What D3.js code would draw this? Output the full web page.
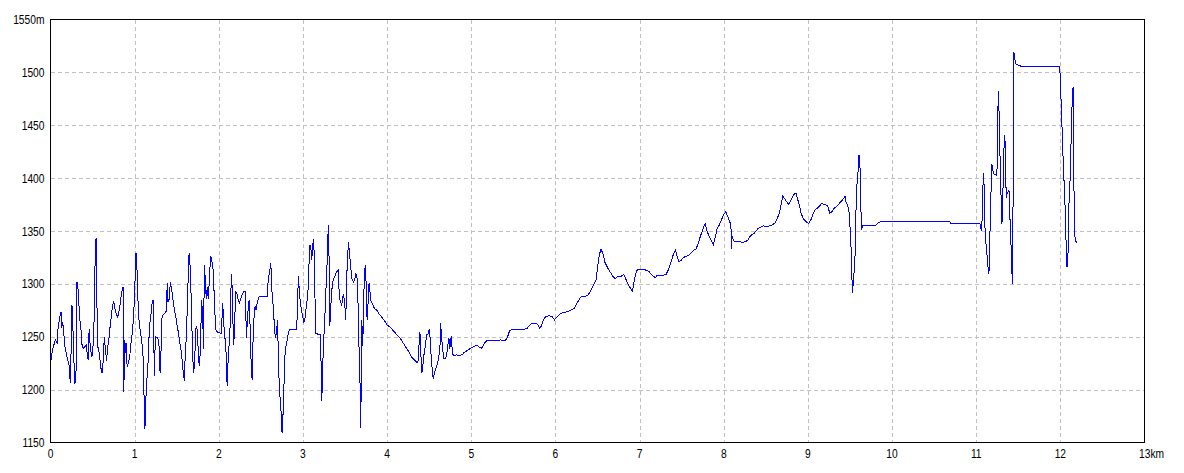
<!DOCTYPE html>
<html><head><meta charset="utf-8">
<script src="https://cdn.jsdelivr.net/npm/d3@7"></script>
<style>
html,body{margin:0;padding:0;background:#fff;}
svg{display:block;}
text{font-family:"Liberation Sans",Arial,sans-serif;font-size:12.5px;fill:#000;}
</style></head>
<body>
<svg id="chart" width="1184" height="473"></svg>
<script>
// ---- tick labels ----
const xTicks = [0,1,2,3,4,5,6,7,8,9,10,11,12,13];
const xTickLabels = ["0","1","2","3","4","5","6","7","8","9","10","11","12","13km"];
const yTicks = [1150,1200,1250,1300,1350,1400,1450,1500,1550];
const yTickLabels = ["1150","1200","1250","1300","1350","1400","1450","1500","1550m"];

// ---- elevation profile: [distance km, elevation m] ----
const trackA = [[0,1225],[0.020,1236],[0.039,1242],[0.059,1247],[0.078,1244],[0.090,1258],[0.110,1269],[0.125,1273],[0.133,1258],[0.145,1264],[0.157,1255],[0.169,1242],[0.184,1236],[0.204,1228],[0.224,1222],[0.235,1206],[0.247,1244],[0.255,1280],[0.263,1266],[0.275,1238],[0.286,1206],[0.302,1208],[0.314,1302],[0.329,1294],[0.345,1269],[0.361,1258],[0.376,1241],[0.392,1239],[0.412,1241],[0.424,1242],[0.435,1235],[0.447,1228],[0.459,1257],[0.471,1242],[0.490,1231],[0.502,1235],[0.518,1266],[0.529,1318],[0.541,1343],[0.549,1294],[0.561,1241],[0.576,1236],[0.588,1228],[0.600,1220],[0.612,1216],[0.627,1228],[0.639,1250],[0.655,1236],[0.667,1227],[0.678,1241],[0.690,1244],[0.706,1258],[0.722,1269],[0.737,1280],[0.753,1283],[0.765,1277],[0.780,1272],[0.796,1269],[0.808,1271],[0.824,1279],[0.839,1288],[0.851,1294],[0.863,1297],[0.871,1198],[0.882,1247],[0.894,1235],[0.902,1244],[0.910,1222],[0.925,1225],[0.941,1231],[0.957,1244],[0.973,1255],[0.988,1269],[1.004,1302],[1.016,1329],[1.027,1316],[1.039,1285],[1.051,1266],[1.067,1255],[1.082,1247],[1.098,1236],[1.110,1198],[1.122,1163],[1.133,1191],[1.145,1209],[1.161,1228],[1.176,1261],[1.192,1269],[1.204,1280],[1.220,1285],[1.227,1249],[1.235,1213],[1.243,1241],[1.251,1250],[1.267,1249],[1.282,1247],[1.294,1238],[1.302,1216],[1.314,1238],[1.325,1268],[1.341,1271],[1.357,1272],[1.373,1274],[1.380,1286],[1.388,1301],[1.396,1283],[1.412,1286],[1.424,1302],[1.435,1297],[1.447,1291],[1.459,1283],[1.475,1274],[1.490,1268],[1.506,1260],[1.522,1253],[1.537,1244],[1.553,1236],[1.565,1227],[1.580,1214],[1.592,1208],[1.600,1231],[1.616,1253],[1.631,1294],[1.647,1329],[1.663,1313],[1.678,1266],[1.690,1230],[1.702,1216],[1.714,1228],[1.725,1257],[1.737,1260],[1.749,1252],[1.757,1230],[1.769,1222],[1.780,1236],[1.796,1285],[1.808,1269],[1.820,1238],[1.827,1318],[1.839,1305],[1.851,1286],[1.863,1297],[1.875,1286],[1.886,1301],[1.898,1320],[1.906,1326]];
const trackB = [[1.921,1320],[1.933,1313],[1.945,1290],[1.956,1268],[1.968,1255],[2.000,1254],[2.032,1253],[2.044,1282],[2.055,1272],[2.067,1250],[2.079,1247],[2.091,1227],[2.099,1203],[2.111,1228],[2.119,1239],[2.131,1250],[2.143,1293],[2.154,1309],[2.166,1268],[2.178,1242],[2.190,1268],[2.202,1293],[2.214,1291],[2.230,1285],[2.246,1282],[2.261,1286],[2.277,1290],[2.297,1293],[2.313,1293],[2.321,1271],[2.329,1249],[2.341,1268],[2.352,1279],[2.360,1285],[2.372,1260],[2.384,1225],[2.396,1209],[2.408,1250],[2.420,1271],[2.432,1279],[2.444,1275],[2.455,1282],[2.467,1285],[2.479,1288],[2.574,1288],[2.586,1302],[2.598,1309],[2.610,1315],[2.618,1320],[2.630,1294],[2.642,1283],[2.653,1272],[2.661,1257],[2.673,1249],[2.685,1253],[2.697,1266],[2.705,1241],[2.717,1206],[2.729,1191],[2.741,1178],[2.752,1159],[2.764,1178],[2.776,1209],[2.788,1235],[2.800,1242],[2.812,1247],[2.824,1252],[2.840,1257],[2.927,1257],[2.935,1285],[2.947,1307],[2.958,1291],[2.970,1282],[2.982,1275],[2.998,1269],[3.010,1263],[3.022,1266],[3.034,1275],[3.046,1283],[3.057,1288],[3.069,1313],[3.081,1337],[3.093,1335],[3.105,1323],[3.113,1334],[3.125,1342],[3.137,1323],[3.149,1253],[3.208,1252],[3.216,1222],[3.224,1189],[3.236,1225],[3.248,1249],[3.259,1266],[3.275,1298],[3.287,1320],[3.295,1343],[3.303,1356],[3.311,1320],[3.319,1260],[3.331,1279],[3.343,1294],[3.354,1302],[3.366,1305],[3.378,1307],[3.390,1310],[3.406,1312],[3.418,1313],[3.426,1298],[3.438,1285],[3.450,1282],[3.461,1280],[3.473,1288],[3.485,1290],[3.493,1280],[3.501,1277],[3.509,1266],[3.517,1299],[3.529,1324],[3.541,1340],[3.549,1332],[3.560,1323],[3.572,1312],[3.584,1304],[3.600,1302],[3.616,1304],[3.628,1310],[3.640,1307],[3.651,1299],[3.659,1258],[3.671,1228],[3.679,1203],[3.687,1164],[3.699,1266],[3.711,1241],[3.723,1291],[3.731,1304],[3.739,1318],[3.750,1302],[3.762,1266],[3.774,1282],[3.786,1301],[3.798,1291],[3.810,1283],[3.826,1281],[3.842,1278],[3.861,1276],[3.881,1275],[3.901,1272],[3.921,1270],[3.941,1268],[3.960,1266],[3.980,1264],[4.000,1261],[4.020,1260],[4.040,1259]];
const trackC = [[4.081,1255],[4.160,1248],[4.240,1238],[4.299,1230],[4.339,1227],[4.366,1225],[4.370,1232],[4.382,1246],[4.390,1254],[4.402,1232],[4.414,1216],[4.426,1224],[4.438,1233],[4.453,1241],[4.469,1252],[4.485,1252],[4.501,1257],[4.509,1251],[4.517,1241],[4.525,1229],[4.537,1218],[4.549,1210],[4.560,1215],[4.576,1219],[4.596,1224],[4.612,1229],[4.628,1241],[4.636,1263],[4.648,1248],[4.659,1241],[4.671,1229],[4.695,1229],[4.715,1237],[4.727,1246],[4.735,1249],[4.743,1238],[4.754,1243],[4.762,1251],[4.774,1237],[4.786,1232],[4.802,1232],[4.826,1233],[4.853,1232],[4.893,1233],[4.913,1235],[4.952,1237],[4.992,1239],[5.032,1241],[5.071,1242],[5.099,1240],[5.119,1239],[5.139,1241],[5.158,1244],[5.182,1246],[5.210,1246],[5.309,1246],[5.349,1247],[5.380,1246],[5.408,1247],[5.428,1249],[5.448,1254],[5.459,1256],[5.487,1257],[5.586,1257],[5.626,1257],[5.665,1258],[5.705,1262],[5.745,1263],[5.784,1262],[5.816,1258],[5.832,1260],[5.851,1265],[5.883,1269],[5.923,1270],[5.962,1269],[5.990,1266],[6.022,1269],[6.061,1272],[6.150,1274]];
const trackD = [[6.226,1277],[6.265,1283],[6.305,1288],[6.345,1288],[6.384,1289],[6.416,1293],[6.455,1299],[6.483,1304],[6.503,1317],[6.523,1328],[6.543,1333],[6.566,1328],[6.590,1320],[6.622,1315],[6.653,1311],[6.685,1307],[6.709,1305],[6.741,1307],[6.780,1307],[6.812,1309],[6.840,1304],[6.867,1299],[6.891,1296],[6.915,1293],[6.939,1304],[6.962,1312],[6.986,1314],[7.018,1314],[7.077,1313],[7.109,1312],[7.137,1309],[7.164,1307],[7.188,1306],[7.208,1308],[7.236,1308],[7.275,1308],[7.315,1309],[7.335,1312],[7.358,1317],[7.382,1323],[7.406,1329],[7.426,1332],[7.446,1326],[7.469,1321],[7.493,1322],[7.521,1325],[7.552,1326],[7.584,1327],[7.612,1329],[7.644,1332],[7.671,1333],[7.691,1337],[7.711,1342],[7.731,1347],[7.754,1352],[7.778,1357],[7.802,1350],[7.830,1344],[7.853,1341],[7.877,1337],[7.901,1345],[7.921,1352],[7.949,1356],[7.976,1361],[8.000,1366],[8.024,1368],[8.048,1364],[8.075,1358],[8.087,1352],[8.091,1333],[8.099,1345],[8.115,1341],[8.139,1340],[8.166,1340],[8.198,1340],[8.226,1339],[8.253,1340],[8.285,1341],[8.305,1344],[8.325,1346],[8.364,1348],[8.404,1352],[8.444,1354],[8.471,1355],[8.511,1354],[8.543,1355],[8.582,1356],[8.614,1358],[8.642,1363],[8.661,1367],[8.681,1375],[8.701,1383],[8.721,1381],[8.745,1378],[8.768,1375],[8.792,1378],[8.816,1382],[8.840,1385],[8.859,1386],[8.879,1380],[8.899,1374],[8.919,1367],[8.943,1362],[8.966,1360],[8.990,1358],[9.010,1357],[9.038,1361],[9.061,1366],[9.085,1370],[9.117,1372],[9.141,1374],[9.164,1376],[9.196,1375],[9.236,1374],[9.259,1367],[9.283,1368],[9.307,1371],[9.335,1373],[9.362,1375],[9.394,1378],[9.418,1380],[9.442,1383]];
const trackE = [[9.452,1378],[9.476,1373],[9.492,1367],[9.504,1348],[9.516,1329],[9.524,1304],[9.532,1291],[9.540,1304],[9.556,1316],[9.567,1345],[9.575,1386],[9.587,1398],[9.599,1409],[9.607,1422],[9.615,1416],[9.623,1405],[9.631,1368],[9.639,1351],[9.647,1355],[9.790,1355],[9.813,1356],[9.841,1358],[9.869,1359],[10.687,1359],[10.702,1357],[11.044,1357],[11.052,1353],[11.063,1350],[11.071,1362],[11.079,1391],[11.091,1405],[11.099,1364],[11.111,1342],[11.127,1329],[11.139,1317],[11.151,1309],[11.159,1329],[11.167,1361],[11.179,1395],[11.187,1413],[11.194,1411],[11.202,1405],[11.218,1403],[11.238,1403],[11.246,1402],[11.254,1441],[11.262,1482],[11.270,1468],[11.278,1439],[11.286,1411],[11.298,1375],[11.306,1357],[11.313,1373],[11.321,1398],[11.329,1427],[11.341,1441],[11.349,1411],[11.357,1381],[11.369,1386],[11.377,1387],[11.389,1389],[11.397,1376],[11.405,1351],[11.417,1331],[11.425,1310],[11.433,1300],[11.440,1411],[11.448,1519],[11.460,1512],[11.472,1508],[11.496,1507],[11.528,1506],[11.992,1506],[12.000,1493],[12.012,1465],[12.024,1439],[12.036,1411],[12.052,1383],[12.063,1357],[12.071,1329],[12.079,1316],[12.091,1329],[12.099,1369],[12.115,1398],[12.127,1433],[12.139,1468],[12.151,1486],[12.159,1417],[12.167,1348],[12.179,1342],[12.190,1339]];

const track = [].concat(trackA, trackB, trackC, trackD, trackE);

// ---- layout ----
const svg = d3.select("#chart");
const pLeft = 50.5, pRight = 1144.5, pTop = 19.5, pBottom = 442.5;

const x = d3.scaleLinear().domain([0, 13]).range([pLeft, pRight]);
const y = d3.scaleLinear().domain([1150, 1550]).range([pBottom, pTop]);

// grid
const grid = svg.append("g").attr("shape-rendering", "crispEdges");
grid.selectAll("line.vg").data(xTicks.slice(1, -1)).join("line")
  .attr("x1", d => Math.round(x(d)) + 0.5).attr("x2", d => Math.round(x(d)) + 0.5)
  .attr("y1", pTop).attr("y2", pBottom)
  .attr("stroke", "#c0c0c0").attr("stroke-width", 1).attr("stroke-dasharray", "4,3");
grid.selectAll("line.hg").data(yTicks.slice(1, -1)).join("line")
  .attr("y1", d => Math.round(y(d)) + 0.5).attr("y2", d => Math.round(y(d)) + 0.5)
  .attr("x1", pLeft).attr("x2", pRight)
  .attr("stroke", "#c0c0c0").attr("stroke-width", 1).attr("stroke-dasharray", "4,3");

// profile line
const line = d3.line().x(d => x(d[0])).y(d => y(d[1]));
svg.append("path").datum(track)
  .attr("d", line)
  .attr("fill", "none").attr("stroke", "#0000ff").attr("stroke-width", 1)
  .attr("shape-rendering", "crispEdges");

// frame
svg.append("rect").attr("x", pLeft).attr("y", pTop)
  .attr("width", pRight - pLeft).attr("height", pBottom - pTop)
  .attr("fill", "none").attr("stroke", "#000").attr("stroke-width", 1)
  .attr("shape-rendering", "crispEdges");

// axis labels
const yl = svg.append("g");
yTicks.forEach((t, i) => {
  yl.append("text")
    .attr("transform", `translate(44.5,${y(t) + 4.5}) scale(0.82,1)`)
    .attr("text-anchor", "end")
    .text(yTickLabels[i]);
});
const xl = svg.append("g");
xTicks.forEach((t, i) => {
  const lab = xTickLabels[i];
  const isLast = i === xTicks.length - 1;
  xl.append("text")
    .attr("transform", `translate(${isLast ? x(t) - 5.5 : x(t)},${457.5}) scale(0.82,1)`)
    .attr("text-anchor", isLast ? "start" : "middle")
    .text(lab);
});
</script>
</body></html>
